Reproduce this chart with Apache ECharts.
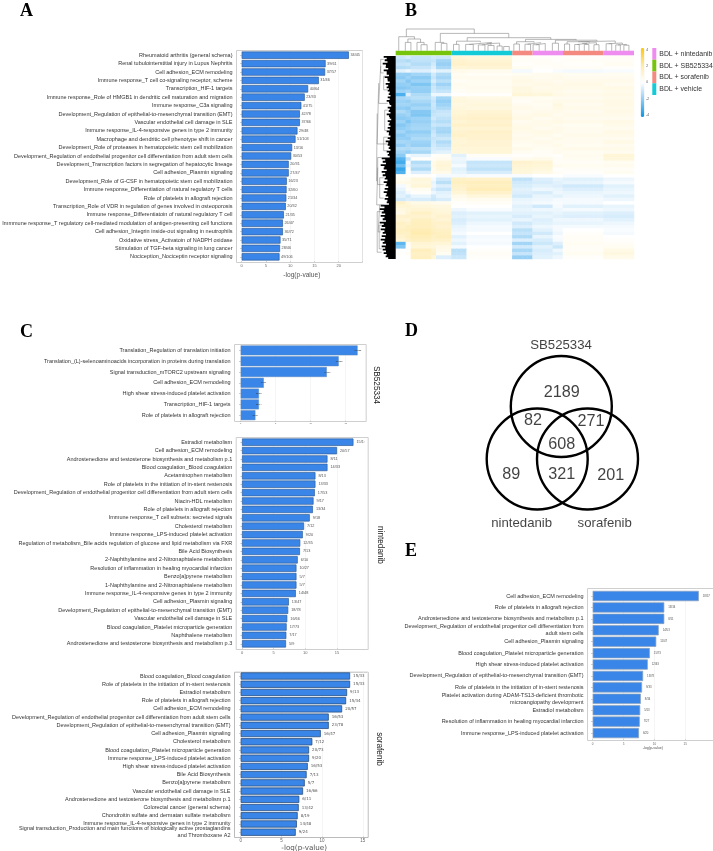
<!DOCTYPE html>
<html><head><meta charset="utf-8">
<style>html,body{margin:0;padding:0;background:#fff}#c{width:713px;height:851px}</style>
<script src="https://cdn.jsdelivr.net/npm/echarts@6/dist/echarts.min.js"></script>
</head><body><div id="c"></div>
<script>
// ---------- Panel A ----------
const categoriesA = ['Rheumatoid arthritis (general schema)','Renal tubulointerstitial injury in Lupus Nephritis','Cell adhesion_ECM remodeling','Immune response_T cell co-signaling receptor, scheme','Transcription_HIF-1 targets','Immune response_Role of HMGB1 in dendritic cell maturation and migration','Immune response_C3a signaling','Development_Regulation of epithelial-to-mesenchymal transition (EMT)','Vascular endothelial cell damage in SLE','Immune response_IL-4-responsive genes in type 2 immunity','Macrophage and dendritic cell phenotype shift in cancer','Development_Role of proteases in hematopoietic stem cell mobilization','Development_Regulation of endothelial progenitor cell differentiation from adult stem cells','Development_Transcription factors in segregation of hepatocytic lineage','Cell adhesion_Plasmin signaling','Development_Role of G-CSF in hematopoietic stem cell mobilization','Immune response_Differentiation of natural regulatory T cells','Role of platelets in allograft rejection','Transcription_Role of VDR in regulation of genes involved in osteoporosis','Immune response_Differentiatoin of natural regulatory T cell','Immmune response_T regulatory cell-mediated modulation of antigen-presenting cell functions','Cell adhesion_Integrin inside-out signaling in neutrophils','Oxidative stress_Activatoin of NADPH oxidase','Stimulation of TGF-beta signaling in lung cancer','Nociception_Nociceptin receptor signaling'];
const valuesA = [22.1,17.3,17.2,15.9,13.7,13.0,12.3,12.0,12.0,11.5,11.1,10.4,10.2,9.7,9.7,9.3,9.25,9.2,9.1,8.7,8.5,8.5,8.0,7.9,7.8];
const countsA = ['34/45','39/61','37/57','31/46','40/64','23/33','41/75','42/78','37/66','29/48','51/103','13/16','30/53','20/31','27/47','16/23','32/60','21/34','20/32','21/35','26/47','36/72','35/71','28/46','49/106'];
// ---------- Panel C, SB525334 ----------
const categoriesC1 = ['Translation_Regulation of translation initiation','Translation_(L)-selenoaminoacids incorporation in proteins during translation','Signal transduction_mTORC2 upstream signaling','Cell adhesion_ECM remodeling','High shear stress-induced platelet activation','Transcription_HIF-1 targets','Role of platelets in allograft rejection'];
const valuesC1 = [16.7,14.0,12.3,3.3,2.6,2.6,2.1];
const countsC1 = ['58/133','51/135','46/187','34/57','31/53','37/64','21/34'];
// ---------- Panel C, nintedanib ----------
const categoriesC2 = ['Estradiol metabolism','Cell adhesion_ECM remodeling','Androstenedione and testosterone biosynthesis and metabolism p.1','Blood coagulation_Blood coagulation','Acetaminophen metabolism','Role of platelets in the initiation of in-stent restenosis','Development_Regulation of endothelial progenitor cell differentiation from adult stem cells','Niacin-HDL metabolism','Role of platelets in allograft rejection','Immune response_T cell subsets: secreted signals','Cholesterol metabolism','Immune response_LPS-induced platelet activation','Regulation of metabolism_Bile acids regulation of glucose and lipid metabolism via FXR','Bile Acid Biosynthesis','2-Naphthylamine and 2-Nitronaphtalene metabolism','Resolution of inflammation in healing myocardial infarction','Benzo[a]pyrene metabolism','1-Naphthylamine and 2-Nitronaphtalene metabolism','Immune response_IL-4-responsive genes in type 2 immunity','Cell adhesion_Plasmin signaling','Development_Regulation of epithelial-to-mesenchymal transition (EMT)','Vascular endothelial cell damage in SLE','Blood coagulation_Platelet microparticle generation','Naphthalene metabolism','Androstenedione and testosterone biosynthesis and metabolism p.3'];
const valuesC2 = [17.6,15.0,13.5,13.5,11.6,11.6,11.5,11.3,11.2,10.7,9.8,9.6,9.2,9.15,8.8,8.6,8.6,8.6,8.5,7.4,7.3,7.15,7.05,7.0,6.95];
const countsC2 = ['15/1:','20/57','8/11','14/33','8/13','13/33','17/53','9/17','13/34','9/18','7/12','9/20','12/35','7/13','6/10','10/27','5/7','5/7','14/48','13/47','18/78','16/66','17/73','7/17','5/9'];
// ---------- Panel C, sorafenib ----------
const categoriesC3 = ['Blood coagulation_Blood coagulation','Role of platelets in the initiation of in-stent restenosis','Estradiol metabolism','Role of platelets in allograft rejection','Cell adhesion_ECM remodeling','Development_Regulation of endothelial progenitor cell differentiation from adult stem cells','Development_Regulation of epithelial-to-mesenchymal transition (EMT)','Cell adhesion_Plasmin signaling','Cholesterol metabolism','Blood coagulation_Platelet microparticle generation','Immune response_LPS-induced platelet activation','High shear stress-induced platelet activation','Bile Acid Biosynthesis','Benzo[a]pyrene metabolism','Vascular endothelial cell damage in SLE','Androstenedione and testosterone biosynthesis and metabolism p.1','Colorectal cancer (general schema)','Chondroitin sulfate and dermatan sulfate metabolism','Immune response_IL-4-responsive genes in type 2 immunity','Signal transduction_Production and main functions of biologically active prostaglandins\nand Thromboxane A2'];
const valuesC3 = [13.44,13.44,13.07,12.95,12.46,10.82,10.82,9.84,8.8,8.4,8.4,8.24,8.1,7.87,7.66,7.2,7.13,7.0,6.9,6.76];
const countsC3 = ['15/33','15/33','9/13','15/34','20/57','16/53','23/78','16/47','7/12','20/73','9/20','16/53','7/13','5/7','16/66','6/11','13/42','8/19','14/48','9/24'];
// ---------- Panel E ----------
const categoriesE = ['Cell adhesion_ECM remodeling','Role of platelets in allograft rejection','Androstenedione and testosterone biosynthesis and metabolism p.1','Development_Regulation of endothelial progenitor cell differentiation from\nadult stem cells','Cell adhesion_Plasmin signaling','Blood coagulation_Platelet microparticle generation','High shear stress-induced platelet activation','Development_Regulation of epithelial-to-mesenchymal transition (EMT)','Role of platelets in the initiation of in-stent restenosis','Platelet activation during ADAM-TS13-deficient thrombotic\nmicroangiopathy development','Estradiol metabolism','Resolution of inflammation in healing myocardial infarction','Immune response_LPS-induced platelet activation'];
const valuesE = [17.2,11.6,11.6,10.7,10.3,9.26,8.93,8.17,8.0,7.8,7.7,7.63,7.5];
const countsE = ['18/57','13/34','8/11','14/53','11/47','15/73','12/43','13/78','9/33','8/34','5/13','7/27','6/20'];
// ---------- Panel B, heat map: one row per band, one value per block of samples ----------
const blockColumns = [2,1,4,1,3, 3,9, 4,4,2,8,6];
const heatRows = [
[-0.9,-0.7,-1.0,-0.8,-0.9,0.9,0.8,0.2,0.1,0.1,0.1,0.2],
[-1.2,-1.4,-1.1,-1.0,-1.6,1.1,1.0,0.2,0.2,0.1,0.2,0.2],
[-1.0,-0.9,-1.3,-0.8,-1.8,1.2,1.1,0.1,0.2,0.2,0.1,0.3],
[-1.3,-1.2,-1.0,-0.6,-1.5,0.9,1.0,0.3,0.1,0.2,0.2,0.1],
[-0.5,-0.3,-0.6,-0.3,-0.5,0.5,0.4,-0.2,0,-0.1,-0.2,-0.1],
[-1.8,-1.9,-1.6,-0.8,-1.4,0.3,0.2,0.3,0.4,0.4,0.3,0.3],
[-2.0,-1.7,-2.0,-1.0,-1.6,0.4,0.4,0.5,0.4,0.5,0.4,0.4],
[-1.6,-2.1,-1.7,-0.7,-1.2,0.2,0.3,0.6,0.5,0.4,0.5,0.5],
[-1.9,-1.8,-2.2,-1.1,-1.7,0.4,0.3,0.5,0.6,0.5,0.6,0.4],
[-2.1,-2.0,-1.8,-0.9,-1.3,0.3,0.4,0.7,0.5,0.6,0.5,0.6],
[-1.7,-1.5,-1.9,-0.8,-1.0,0.2,0.3,0.7,0.6,0.5,0.4,0.5],
[-3.0,-0.6,-1.4,-0.3,-0.3,0,0.1,0.9,0.8,0.6,0.5,0.6],
[-1.5,-1.4,-1.2,-0.8,-1.6,0.7,0.6,0.3,0.3,0.4,0.4,0.5],
[-1.7,-1.8,-1.5,-1.0,-1.9,0.8,0.7,0.2,0.4,0.5,0.5,0.6],
[-1.6,-1.6,-1.8,-0.9,-1.7,0.7,0.8,0.4,0.3,0.7,0.4,0.6],
[-1.9,-2.0,-1.5,-1.0,-1.4,0.8,0.7,0.5,0.4,0.6,0.5,0.5],
[-1.4,-1.7,-2.1,-1.1,-1.0,0.9,1.0,0.4,0.5,0.5,0.4,0.6],
[-1.8,-1.6,-2.2,-1.0,-0.9,1.0,1.1,0.5,0.6,0.4,0.5,0.5],
[-2.0,-1.9,-1.7,-0.8,-1.1,1.1,1.2,0.6,0.4,0.5,0.4,0.4],
[-1.7,-2.2,-1.8,-1.1,-1.3,1.0,1.1,0.4,0.5,0.6,0.5,0.6],
[-2.1,-1.8,-1.6,-0.9,-1.0,1.2,1.2,0.5,0.5,0.4,0.3,0.5],
[-1.9,-1.7,-1.5,-1.2,-1.5,1.0,1.0,0.6,0.4,0.5,0.4,0.4],
[-1.6,-2.0,-1.9,-1.0,-1.6,1.1,1.2,0.5,0.6,0.5,0.4,0.6],
[-2.0,-1.7,-1.6,-0.8,-1.2,1.2,1.1,0.4,0.5,0.3,0.5,0.5],
[-1.8,-1.9,-1.4,-1.0,-0.9,1.0,1.1,0.5,0.4,0.5,0.4,0.4],
[-1.5,-1.6,-1.7,-0.9,-1.4,0.9,1.0,0.4,0.5,0.4,0.4,0.6],
[-1.9,-1.5,-1.8,-0.8,-1.1,1.0,1.0,0.3,0.4,0.5,0.3,0.4],
[-1.3,-1.4,-1.2,-0.7,-0.8,0.9,0.9,0.5,0.3,0.4,0.5,0.5],
[-1.6,-1.8,-1.5,-0.6,-0.5,0.8,0.9,0.3,0.2,0.4,0.3,0.4],
[-2.0,-0.2,-0.4,0.1,0.2,-0.5,0.2,0.1,0.2,0.1,0.4,0.9],
[-2.8,-1.0,0.1,0.2,0.4,-0.3,-0.1,0.4,0.5,0.2,0.3,0.8],
[-3.1,-0.2,-1.3,0.5,0.8,-0.4,-1.0,1.1,1.0,0.2,0.2,0.3],
[-2.4,-0.4,-1.0,0.6,0.9,-0.2,-0.9,1.0,0.9,0.4,0.3,0.4],
[-3.3,0.1,-1.4,0.4,0.8,-0.5,-1.1,0.9,0.8,0.1,0.2,0.2],
[-2.9,0,-0.6,0.5,0.5,-0.4,-0.7,0.8,0.6,0.2,0.1,0.3],
[0.2,0.1,0.1,0,-0.2,-0.2,-0.1,-0.1,0,0,-0.1,0],
[0.3,0.4,0.8,-0.2,-0.8,1.3,1.2,-1.1,-0.6,-0.4,-0.5,-0.3],
[0.5,0.6,0.7,-0.4,-1.2,1.4,1.5,-0.8,-0.7,-0.5,-0.4,-0.2],
[-0.2,0.3,0.9,-0.3,-0.6,1.2,1.4,-0.7,-0.5,-0.6,-0.8,-0.5],
[-0.4,0.2,0.3,-0.6,-1.0,1.1,1.6,-0.5,-0.3,-0.4,-0.6,-0.4],
[-0.6,-0.2,0.1,-0.3,-0.5,0.9,1.2,-0.6,-0.7,-0.3,-0.4,-0.3],
[-0.5,-0.8,-0.4,-0.8,-0.4,0.5,0.8,-0.8,-0.4,-0.5,-0.3,-0.5],
[-0.8,-0.6,-0.7,-0.9,-0.7,0.3,0.4,-0.4,-0.3,-0.2,-0.2,-0.3],
[1.2,0.8,0.6,0.5,0.4,0.1,0.2,-0.3,-0.2,-0.1,-0.2,0],
[0.9,1.0,0.8,0.7,0.7,0,0,-0.5,-0.8,-0.2,-0.5,-0.4],
[0.7,0.9,1.0,0.9,0.8,-0.3,-0.1,-0.4,-0.3,-0.3,-0.2,-0.3],
[0.6,1.0,1.3,1.0,0.9,-0.6,-0.5,-0.5,-0.5,-0.4,-0.5,-0.6],
[1.1,1.2,1.1,0.9,1.1,-0.5,-0.4,-0.7,-0.4,-0.5,-0.6,-0.7],
[1.0,0.9,1.4,1.1,1.0,-0.7,-0.5,-0.4,-0.6,-0.3,-0.3,-0.5],
[1.3,1.1,1.5,1.2,1.2,-0.6,-0.3,-0.8,-0.5,-0.4,-0.4,-0.3],
[1.2,1.4,1.5,1.3,1.1,-0.4,-0.2,-0.6,-0.3,-0.2,-0.2,-0.2],
[1.4,1.5,1.7,1.4,1.3,-0.3,-0.2,-1.2,-0.5,-0.2,0,-0.1],
[1.3,1.3,1.8,1.5,1.4,-0.2,0,-1.0,-0.8,-0.3,0.1,-0.2],
[1.1,1.4,1.6,1.3,1.5,-0.5,-0.2,-1.4,-0.4,-0.1,0.2,0],
[0.9,1.2,1.4,1.2,1.2,-0.3,-0.1,-0.6,-0.7,-0.2,0.2,0.1],
[-2.7,0.2,1.0,0.9,0.9,-0.5,-0.2,-1.6,-0.9,-0.6,0.3,0.2],
[-2.2,0.1,0.9,0.8,0.6,-0.2,0,-0.8,-0.5,-0.9,0.2,0.3],
[0,0.1,1.5,1.1,0.5,-1.2,0.1,-1.5,-0.7,-0.3,0.2,0.6],
[0.1,0.2,1.3,1.2,0.3,-1.1,0.2,-1.0,-0.6,-0.5,0.3,0.7],
[0,0,1.4,0.9,-0.6,-0.9,0.1,-1.8,-0.5,-0.3,0.1,0.5]
];
const groupNames = ['BDL + nintedanib','BDL + SB525334','BDL + sorafenib','BDL + vehicle'];
const groupColors = ['#ee8cf0','#76c40c','#f4897f','#12cbd6'];
const stripColumns = [11,12,4,6,8,6];
const stripColors = ['#76c40c','#12cbd6','#f4897f','#ee8cf0','#f4897f','#ee8cf0'];
// top tree: [left x, right x, left drop, right drop, joint height], x in sample columns
const topMerges = [[1.9,3,0,0,8.3],[5,6.2,0,0,6],[4.2,5.6,0,6,8.3],[2.4,4.9,8.3,8.3,11.7],[0.6,3.7,0,11.7,14],[9,10.1,0,0,7.3],[7.8,9.5,0,7.3,8.3],[2.1,15.5,14,17.3,21.7],[8.8,22.3,8.3,13,17.3],[14.1,30.6,9.5,11.3,13],[11.4,12.5,0,0,6.3],[13.8,15.3,0,0,6.3],[16.3,17.6,0,0,5.8],[18.2,19.4,0,0,5.2],[20,21,0,0,4.7],[21.3,22.4,0,0,4.2],[17,18.8,5.8,5.2,7],[17.9,20.5,7,4.7,7.6],[14.5,19,6.3,7.6,8.3],[12,16.7,6.3,8.3,9.5],[23.3,24.4,0,0,6.7],[25.5,26.6,0,0,6.5],[27.1,28.3,0,0,6],[27.7,29.5,6,0,7.2],[26,28.6,6.5,7.2,8],[23.85,27.3,6.7,8,9],[25.6,35.6,9,10.5,11.3],[30.9,32.1,0,0,7.5],[33.3,34.3,0,0,6.7],[35.3,36.2,0,0,6.2],[37.2,38.1,0,0,6.2],[39.1,40.1,0,0,6],[35.8,37.7,6.2,6.2,7.3],[36.8,39.6,7.3,6,8],[33.8,38.2,6.7,8,9],[36,43.3,9,7.7,9.7],[31.5,39.7,7.5,9.7,10.5],[41.5,42.6,0,0,7],[43.4,44.3,0,0,5.8],[45,46,0,0,5.5],[43.85,45.5,5.8,5.5,6.3],[42,44.7,7,6.3,7.7]];
// side tree: depth of the leaf lines per heat-map band, then the outer brackets
const leafDepths = [12,11,13,10,12,9,11,8,10,9,8,7,8,9,6,8,7,9,6,8,7,8,9,7,8,10,8,7,9,8,14,13,15,12,14,13,11,12,10,11,12,10,11,9,15,16,14,15,13,16,14,15,13,14,15,13,14,13,12,10];
const sideMerges = [[1,5,12,12,15],[3,14,15,8,17],[8,26,17,8,18.5],[16,22,8,6,11],[6,10,8,8,12],[24,28,8,8,12],[30,38,14,12,18],[33,44,18,12,19],[36,42,12,12,16],[46,58,15,14,18.5],[44,52,16,15,17.5],[50,57,14,14,16.5],[17,37,18.5,19,19.2]];
const colorbarTicks = [-4,-2,0,2,4];
// ---------- Panel D ----------
const vennSets = ['SB525334','nintedanib','sorafenib'];
const vennCircleX = [561.3,537.2,587.5];
const vennCircleY = [406.5,459,459];
const vennCounts = ['2189','82','271','608','89','321','201'];
const vennCountX = [561.7,533,591,561.7,511.3,561.7,610.7];
const vennCountY = [392.7,420.3,421.7,445,475,475,476];
const vennNameX = [561,521.7,604.7];
const vennNameY = [345,523,523];

const grid=[],xAxis=[],yAxis=[],series=[],graphic=[];
function addGrid(l,t,w,h,xa,ya){const i=grid.length;grid.push({left:l,top:t,width:w,height:h,containLabel:false,outerBoundsMode:'none'});xAxis.push({gridIndex:i,...xa});yAxis.push({gridIndex:i,...ya});return i;}
function barPanel(o){
  graphic.push({type:'rect',z:-1,shape:{x:o.fl+.5,y:o.ft+.5,width:o.fr-o.fl,height:o.fb-o.ft},style:{fill:'#fff',stroke:o.frame||'#cfcfcf',lineWidth:1}});
  const i=addGrid(o.x0,o.top,o.fr-o.x0,o.rowH*o.cats.length,{
    type:'value',min:0,max:o.max,interval:5,
    splitLine:{show:true,lineStyle:{color:'#eeeeee',width:.6}},
    minorTick:{show:false},
    axisLine:{show:false},axisTick:{show:true,length:1.2,lineStyle:{color:'#aaa',width:.5}},
    axisLabel:{fontSize:o.tickFont,color:'#666',margin:o.tickMargin,showMaxLabel:false,fontFamily:'Liberation Sans'},
    name:o.axisName||'',nameLocation:'middle',nameGap:o.nameGap||0,
    nameTextStyle:{fontSize:o.nameFont||6,color:'#555',fontFamily:o.nameFamily||'Liberation Sans'}
  },{
    type:'category',inverse:true,data:o.cats,offset:o.x0-o.fl,
    axisLine:{show:false},axisTick:{show:true,length:1.5,alignWithLabel:true,lineStyle:{color:'#888',width:.5}},
    axisLabel:{interval:0,fontSize:o.labelFont,color:'#333',margin:3.5,fontFamily:'Liberation Sans',lineHeight:o.labelLine||o.labelFont*1.25,align:'right'}
  });
  series.push({type:'bar',xAxisIndex:i,yAxisIndex:i,data:o.vals,barCategoryGap:o.gap||'12%',silent:true,
    itemStyle:{color:'#3a86e8',borderColor:o.border,borderWidth:o.bw},
    label:{show:true,position:'right',distance:o.cDist,fontSize:o.cFont,color:o.cColor||'#555',fontFamily:o.cFamily||'Liberation Sans',formatter:p=>o.counts[p.dataIndex]}
  });
}
barPanel({cats:categoriesA,vals:valuesA,counts:countsA,fl:236,fr:362,ft:50,fb:262,x0:241.7,top:51,rowH:8.4,max:24.8,tickFont:4,tickMargin:2.5,labelFont:5.5,border:'#2f5f9c',bw:.7,cDist:1.5,cFont:3.8,axisName:'-log(p-value)',nameGap:10.7,nameFont:6.6});
barPanel({cats:categoriesC1,vals:valuesC1,counts:countsC1,fl:234,fr:365.7,ft:344,fb:421,x0:240.7,top:345,rowH:10.8,max:17.86,tickFont:2.2,tickMargin:1.5,labelFont:5.5,border:'#5b86bd',bw:.5,cDist:-3,cFont:2.2,gap:'8%',cColor:'#333'});
barPanel({cats:categoriesC2,vals:valuesC2,counts:countsC2,fl:235.7,fr:367.7,ft:437,fb:649,x0:242,top:438,rowH:8.4,max:19.85,tickFont:4,tickMargin:2.5,labelFont:5.5,border:'#2f5f9c',bw:.7,cDist:3,cFont:3.8});
barPanel({cats:categoriesC3,vals:valuesC3,counts:countsC3,fl:234,fr:367.7,ft:671.7,fb:837,x0:240.7,top:671.9,rowH:8.22,max:15.6,tickFont:4.5,tickMargin:2,labelFont:5.5,labelLine:7.3,border:'#2a4f80',bw:.8,cDist:3,cFont:4,cFamily:'DejaVu Sans',axisName:'-log(p-value)',nameGap:7.2,nameFont:7.2,nameFamily:'DejaVu Sans',frame:'#bbbbbb'});
barPanel({cats:categoriesE,vals:valuesE,counts:countsE,fl:587,fr:713,ft:588,fb:740,x0:592.7,top:590.3,rowH:11.42,max:19.5,tickFont:3,tickMargin:3.5,labelFont:5.5,border:'#8aa0bd',bw:.7,cDist:4,cFont:2.8,gap:'10%',axisName:'-log(p-value)',nameGap:7.5,nameFont:3.6});

// Heat map
const nCols=blockColumns.reduce((a,b)=>a+b,0), nRows=heatRows.length;
const colCats=[];for(let c=0;c<nCols;c++)colCats.push('s'+c);
const rowCats=heatRows.map((_,r)=>'g'+r);
const heatData=[];
heatRows.forEach((row,r)=>{let c=0;row.forEach((v,b)=>{for(let k=0;k<blockColumns[b];k++){heatData.push([c,r,v]);c++;}});});
const H=addGrid(395.7,56,238.3,203,{type:'category',data:colCats,show:false},{type:'category',inverse:true,data:rowCats,show:false});
series.push({id:'heat',type:'heatmap',xAxisIndex:H,yAxisIndex:H,data:heatData,silent:true,progressive:0});
const heatIndex=series.length-1;
// annotation strip
const S=addGrid(395.7,50.7,238.3,4.6,{type:'value',min:0,max:nCols,show:false},{type:'category',data:['g'],show:false});
stripColumns.forEach((w,i)=>series.push({type:'bar',stack:'strip',xAxisIndex:S,yAxisIndex:S,barWidth:'100%',data:[w],silent:true,itemStyle:{color:stripColors[i]}}));
// top tree
const topLine=[];topMerges.forEach(([a,b,da,db,h])=>{topLine.push([a,da],[a,h],[b,h],[b,db],[NaN,NaN]);});
const T=addGrid(395.7,25,238.3,25.7,{type:'value',min:0,max:nCols,show:false},{type:'value',min:0,max:25.7,show:false});
series.push({type:'line',xAxisIndex:T,yAxisIndex:T,data:topLine,showSymbol:false,silent:true,connectNulls:false,lineStyle:{color:'#888',width:.6}});
// side tree
const L=addGrid(376,56,19.7,203,{type:'value',min:0,max:19.7,inverse:true,show:false},{type:'value',min:0,max:nRows,inverse:true,show:false});
const leafLine=[];leafDepths.forEach((d,r)=>{leafLine.push([0,r+.25],[d,r+.25],[NaN,NaN],[0,r+.75],[d*.75,r+.75],[NaN,NaN]);});
series.push({type:'line',xAxisIndex:L,yAxisIndex:L,data:leafLine,showSymbol:false,silent:true,lineStyle:{color:'#000',width:1.8}});
const sideLine=[];sideMerges.forEach(([r1,r2,d1,d2,d])=>{sideLine.push([d1,r1],[d,r1],[d,r2],[d2,r2],[NaN,NaN]);});
series.push({type:'line',xAxisIndex:L,yAxisIndex:L,data:sideLine,showSymbol:false,silent:true,lineStyle:{color:'#777',width:.5}});
// colour bar tick labels
addGrid(644.3,50,.5,65,{type:'value',min:0,max:1,show:false},{type:'value',min:-4,max:4,interval:2,position:'right',splitLine:{show:false},axisLine:{show:false},axisTick:{show:false},axisLabel:{fontSize:3.2,color:'#444',margin:1.5,customValues:colorbarTicks}});
// legend strip
const G=addGrid(652.3,48,4,47,{type:'value',min:0,max:1,show:false},{type:'category',inverse:true,position:'right',data:groupNames,axisLine:{show:false},axisTick:{show:false},axisLabel:{interval:0,fontSize:6.9,color:'#333',margin:3,fontFamily:'Liberation Sans'}});
series.push({type:'bar',xAxisIndex:G,yAxisIndex:G,barWidth:'100%',silent:true,data:groupColors.map(c=>({value:1,itemStyle:{color:c}}))});
// Venn
const V=addGrid(0,0,713,851,{type:'value',min:0,max:713,show:false},{type:'value',min:0,max:851,inverse:true,show:false});
series.push({type:'scatter',xAxisIndex:V,yAxisIndex:V,symbol:'circle',symbolSize:101,silent:true,clip:false,
  data:vennCircleX.map((x,i)=>[x,vennCircleY[i]]),itemStyle:{color:'rgba(0,0,0,0)',borderColor:'#000',borderWidth:2.4,opacity:1}});
series.push({type:'scatter',xAxisIndex:V,yAxisIndex:V,symbolSize:0,silent:true,clip:false,
  data:vennCountX.map((x,i)=>[x,vennCountY[i]]),
  label:{show:true,position:'inside',fontSize:16.2,color:'#111',fontFamily:'Liberation Sans',formatter:p=>vennCounts[p.dataIndex]}});
series.push({type:'scatter',xAxisIndex:V,yAxisIndex:V,symbolSize:0,silent:true,clip:false,
  data:vennNameX.map((x,i)=>[x,vennNameY[i]]),
  label:{show:true,position:'inside',fontSize:13.2,color:'#111',fontFamily:'Liberation Sans',formatter:p=>vennSets[p.dataIndex]}});

// Panel letters and side captions
[['A',20,20],['B',405,20],['C',20,341],['D',405,340],['E',405,560]].forEach(([t,x,y])=>graphic.push({type:'text',style:{x,y,text:t,font:'bold 18px "Liberation Serif"',fill:'#000',align:'left',verticalAlign:'bottom'}}));
[['SB525334',376.7,385],['nintedanib',380.7,545],['sorafenib',379,749]].forEach(([t,x,y])=>graphic.push({type:'text',x,y,rotation:-Math.PI/2,style:{x:0,y:0,text:t,font:'8.2px "Liberation Sans"',fill:'#222',align:'center',verticalAlign:'middle'}}));

const chart=echarts.init(document.getElementById('c'),null,{renderer:'canvas',width:713,height:851});
chart.setOption({animation:false,backgroundColor:'#fff',grid,xAxis,yAxis,series,graphic,
  visualMap:[{type:'continuous',seriesIndex:heatIndex,min:-4,max:4,calculable:false,showLabel:false,padding:0,itemGap:0,
    left:640.7,top:48,itemWidth:3.6,itemHeight:69,
    inRange:{color:['#0a94e6','#8ccbf4','#ffffff','#ffeaa8','#ffc60a']}}]
});
</script></body></html>
